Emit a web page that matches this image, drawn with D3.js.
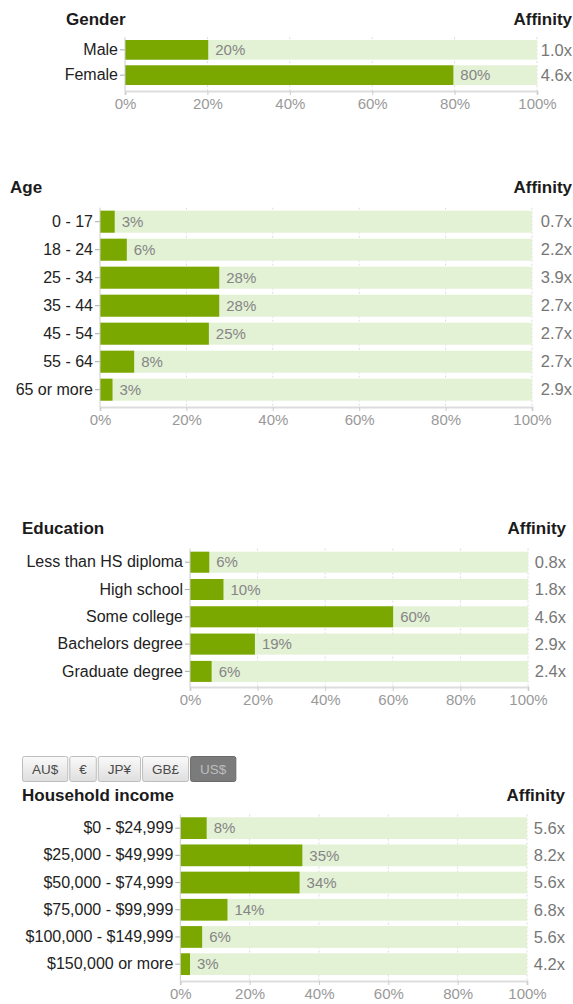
<!DOCTYPE html>
<html>
<head>
<meta charset="utf-8">
<script src="https://cdn.jsdelivr.net/npm/d3@7"></script>
<style>
  body { margin: 0; background: #fff; }
  svg { display: block; font-family: "Liberation Sans", Arial, sans-serif; }
</style>
</head>
<body>
<svg id="chart" width="573" height="1004"></svg>
<script>
// data
const genderCategories = ["Male", "Female"];
const genderShare = [20.2, 79.7];
const genderAffinity = [1.0, 4.6];

const ageCategories = ["0 - 17", "18 - 24", "25 - 34", "35 - 44", "45 - 54", "55 - 64", "65 or more"];
const ageShare = [3.4, 6.2, 27.6, 27.6, 25.2, 7.9, 2.9];
const ageAffinity = [0.7, 2.2, 3.9, 2.7, 2.7, 2.7, 2.9];

const educationCategories = ["Less than HS diploma", "High school", "Some college", "Bachelors degree", "Graduate degree"];
const educationShare = [5.7, 9.9, 60.1, 19.2, 6.4];
const educationAffinity = [0.8, 1.8, 4.6, 2.9, 2.4];

const incomeCategories = ["$0 - $24,999", "$25,000 - $49,999", "$50,000 - $74,999", "$75,000 - $99,999", "$100,000 - $149,999", "$150,000 or more"];
const incomeShare = [7.6, 35.2, 34.4, 13.6, 6.3, 2.8];
const incomeAffinity = [5.6, 8.2, 5.6, 6.8, 5.6, 4.2];

const percentTicks = [0, 20, 40, 60, 80, 100];
const currencies = ["AU$", "€", "JP¥", "GB£", "US$"];
const activeCurrency = "US$";

const svg = d3.select("#chart");

const green = "#7aa700",
      paleGreen = "#e3f1d5";

function drawPanel(p) {
  const g = svg.append("g");
  const pad = 1 - p.barHeight / p.step;
  const y0 = p.barTop - p.step * pad / 2;

  const x = d3.scaleLinear().domain([0, 100]).range([p.left, p.right]);
  const y = d3.scaleBand()
    .domain(p.categories)
    .range([y0, y0 + p.step * p.categories.length])
    .paddingInner(pad)
    .paddingOuter(pad / 2);

  // titles
  g.append("text")
    .attr("x", p.titleX).attr("y", p.titleY)
    .attr("font-size", 17).attr("font-weight", "bold").attr("fill", "#1b1b1b")
    .text(p.title);
  g.append("text")
    .attr("x", p.affinityX).attr("y", p.titleY)
    .attr("text-anchor", "end")
    .attr("font-size", 17).attr("font-weight", "bold").attr("fill", "#1b1b1b")
    .text("Affinity");

  // grid lines
  g.append("g")
    .selectAll("line")
    .data(percentTicks.slice(1))
    .join("line")
    .attr("x1", d => x(d)).attr("x2", d => x(d))
    .attr("y1", y0).attr("y2", p.axisY)
    .attr("stroke", "#dcdcdc")
    .attr("stroke-dasharray", "2,2");

  // background bars
  g.append("g")
    .selectAll("rect")
    .data(p.categories)
    .join("rect")
    .attr("x", x(0))
    .attr("y", d => y(d))
    .attr("width", x(100) - x(0))
    .attr("height", y.bandwidth())
    .attr("fill", paleGreen);

  // value bars
  g.append("g")
    .selectAll("rect")
    .data(p.values)
    .join("rect")
    .attr("x", x(0))
    .attr("y", (d, i) => y(p.categories[i]))
    .attr("width", d => x(d) - x(0))
    .attr("height", y.bandwidth())
    .attr("fill", green);

  // value labels
  g.append("g")
    .selectAll("text")
    .data(p.values)
    .join("text")
    .attr("x", d => x(d) + 7)
    .attr("y", (d, i) => y(p.categories[i]) + y.bandwidth() / 2)
    .attr("dy", "0.35em")
    .attr("font-size", 15)
    .attr("fill", "#858585")
    .text(d => Math.round(d) + "%");

  // affinity labels
  g.append("g")
    .selectAll("text")
    .data(p.affinity)
    .join("text")
    .attr("x", p.affinityX)
    .attr("y", (d, i) => y(p.categories[i]) + y.bandwidth() / 2)
    .attr("dy", "0.35em")
    .attr("text-anchor", "end")
    .attr("font-size", 16.5)
    .attr("fill", "#777")
    .text(d => d.toFixed(1) + "x");

  // y axis
  const ya = g.append("g")
    .attr("transform", `translate(${x(0)},0)`)
    .call(d3.axisLeft(y).tickSize(5).tickPadding(2));
  ya.select(".domain").remove();
  ya.selectAll(".tick line").attr("stroke", "#aaa");
  ya.selectAll(".tick text")
    .attr("font-size", 16)
    .attr("font-family", "Liberation Sans, Arial, sans-serif")
    .attr("fill", "#222");
  g.append("line")
    .attr("x1", x(0)).attr("x2", x(0))
    .attr("y1", y0).attr("y2", p.axisY)
    .attr("stroke", "#ccc");

  // x axis
  const xa = g.append("g")
    .attr("transform", `translate(0,${p.axisY})`)
    .call(d3.axisBottom(x).tickValues(percentTicks).tickFormat(d => d + "%").tickSize(4).tickPadding(3));
  xa.select(".domain").attr("stroke", "#ddd").attr("stroke-width", 2);
  xa.selectAll(".tick line").attr("stroke", "#ccc");
  xa.selectAll(".tick text")
    .attr("font-size", 15)
    .attr("font-family", "Liberation Sans, Arial, sans-serif")
    .attr("fill", "#999");
}

drawPanel({
  title: "Gender", categories: genderCategories, values: genderShare, affinity: genderAffinity,
  left: 125, right: 537, barTop: 40, step: 25.3, barHeight: 19.7, axisY: 91,
  titleX: 66, titleY: 25, affinityX: 572
});

drawPanel({
  title: "Age", categories: ageCategories, values: ageShare, affinity: ageAffinity,
  left: 100, right: 532, barTop: 210.7, step: 28, barHeight: 22, axisY: 407,
  titleX: 10, titleY: 193, affinityX: 572
});

drawPanel({
  title: "Education", categories: educationCategories, values: educationShare, affinity: educationAffinity,
  left: 190, right: 528, barTop: 551.7, step: 27.3, barHeight: 21, axisY: 687,
  titleX: 22, titleY: 534, affinityX: 566
});

drawPanel({
  title: "Household income", categories: incomeCategories, values: incomeShare, affinity: incomeAffinity,
  left: 180.3, right: 527, barTop: 817.3, step: 27.2, barHeight: 21.7, axisY: 981,
  titleX: 22, titleY: 801, affinityX: 565
});

// currency switcher
const defs = svg.append("defs");
const grad = defs.append("linearGradient").attr("id", "btn").attr("x1", 0).attr("x2", 0).attr("y1", 0).attr("y2", 1);
grad.append("stop").attr("offset", 0).attr("stop-color", "#fafafa");
grad.append("stop").attr("offset", 1).attr("stop-color", "#dedede");

const btnRow = svg.append("g").attr("transform", "translate(22,756)");
let bx = 0;
currencies.forEach(c => {
  const b = btnRow.append("g").attr("transform", `translate(${bx},0)`);
  const rect = b.append("rect").attr("height", 25).attr("rx", 2)
    .attr("fill", c === activeCurrency ? "#7b7b7b" : "url(#btn)")
    .attr("stroke", c === activeCurrency ? "#6a6a6a" : "#bdbdbd");
  const t = b.append("text")
    .attr("y", 17.5)
    .attr("font-size", 13.5)
    .attr("fill", c === activeCurrency ? "#bdbdbd" : "#4a4a4a")
    .text(c);
  const w = t.node().getComputedTextLength() + 19;
  rect.attr("x", 0.5).attr("y", 0.5).attr("width", w);
  t.attr("x", w / 2 + 0.5).attr("text-anchor", "middle");
  bx += w + 2;
});
</script>
</body>
</html>
